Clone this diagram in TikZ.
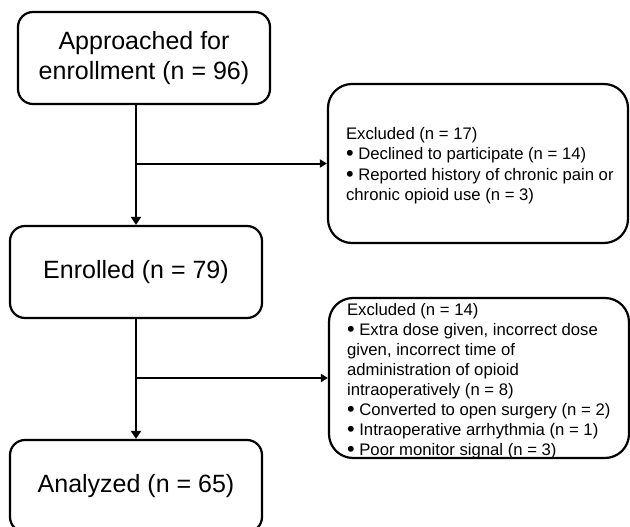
\documentclass[tikz,border=0pt]{standalone}
\usepackage{fontspec}
\setmainfont{Liberation Sans}
\usetikzlibrary{arrows.meta}
\newcommand{\bul}{\raisebox{-0.08em}{\scalebox{1.3}{\textbullet}}\ }
\tikzset{
  mainbox/.style={draw=black, line width=2.2pt, rounded corners=15pt, minimum width=252pt, minimum height=92pt, inner sep=0pt, align=center, font=\fontsize{25}{30}\selectfont},
  exclbox/.style={draw=black, line width=2.2pt, rounded corners=24pt, minimum width=300pt, inner sep=0pt},
  excltext/.style={anchor=west, xshift=19pt, inner sep=0pt, align=left},
  flow/.style={line width=2pt, -{Triangle[width=10pt,length=8pt]}},
  side/.style={line width=2pt, -{Triangle[width=8pt,length=7pt]}},
}
\begin{document}
\begin{tikzpicture}[x=1pt,y=-1pt]
\useasboundingbox (0,0) rectangle (630,527);
\node[mainbox] (b1) at (144,58) {Approached for\\enrollment (n = 96)};
\node[mainbox] (b2) at (136,272) {Enrolled (n = 79)};
\node[mainbox] (b3) at (136,486) {Analyzed (n = 65)};
\node[exclbox, minimum height=159pt] (x1) at (478,163.5) {};
\node[excltext, font=\fontsize{16.7}{20.5}\selectfont, yshift=-2pt] (t1) at (x1.west)
  {Excluded (n = 17)\\
   \bul Declined to participate (n = 14)\\
   \bul Reported history of chronic pain or\\
   chronic opioid use (n = 3)};
\node[exclbox, minimum height=160pt] (x2) at (479,378) {};
\node[excltext, font=\fontsize{16.7}{20}\selectfont, yshift=-3pt] (t2) at (x2.west)
  {Excluded (n = 14)\\
   \bul Extra dose given, incorrect dose\\
   given, incorrect time of\\
   administration of opioid\\
   intraoperatively (n = 8)\\
   \bul Converted to open surgery (n = 2)\\
   \bul Intraoperative arrhythmia (n = 1)\\
   \bul Poor monitor signal (n = 3)};
\coordinate (s1) at (b1.south -| b2.north);
\draw[flow] (s1) -- (b2.north);
\draw[side] (s1 |- x1.west) -- (x1.west);
\draw[flow] (b2.south) -- (b3.north);
\draw[side] (b2.south |- x2.west) -- (x2.west);
\end{tikzpicture}
\end{document}
